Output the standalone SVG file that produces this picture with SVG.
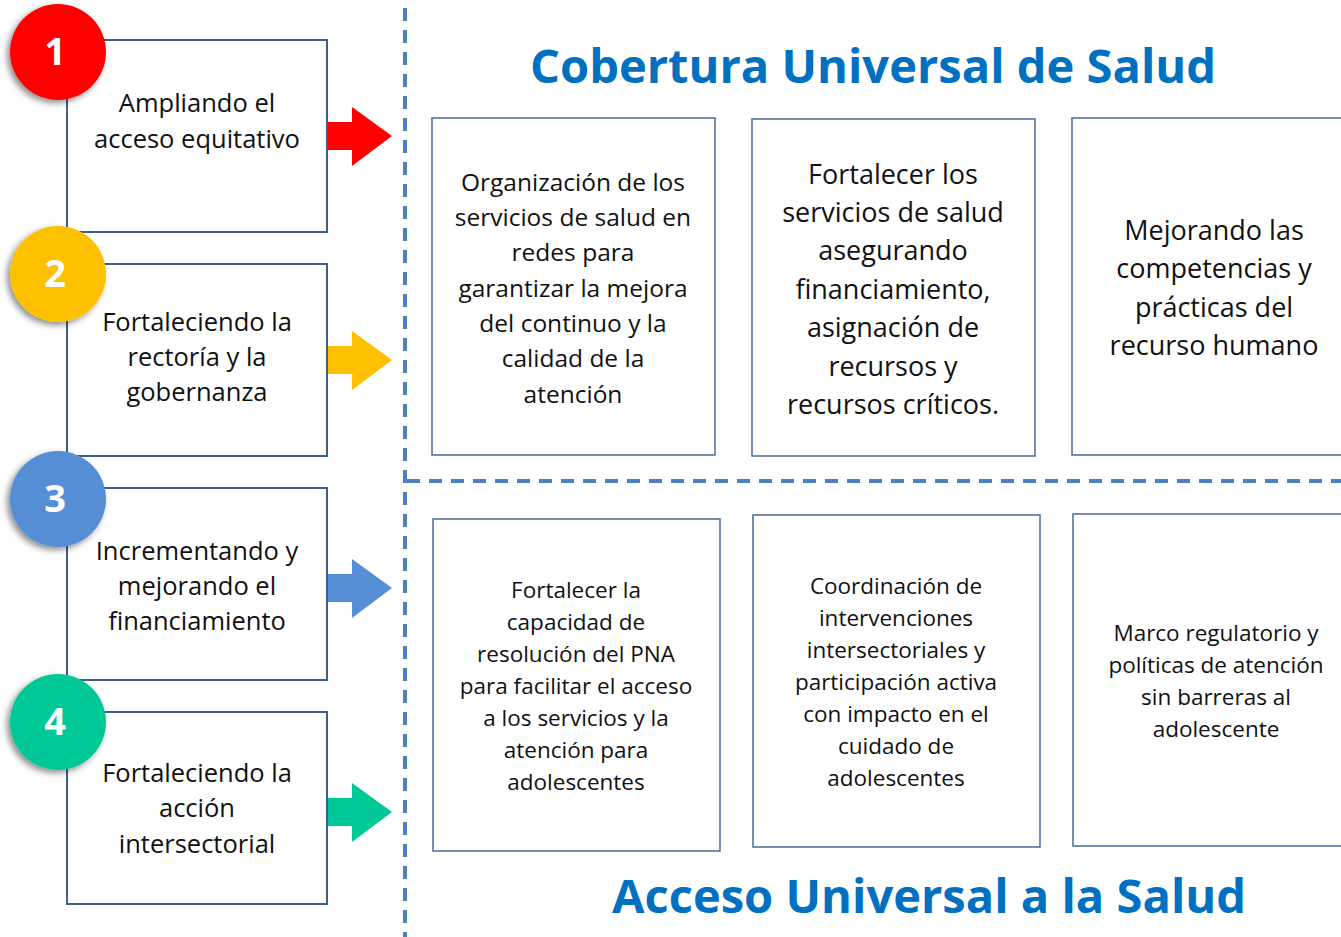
<svg xmlns="http://www.w3.org/2000/svg" width="1341" height="937" viewBox="0 0 1341 937">
<style>
.box{fill:#fff;stroke:#3F5F8F;stroke-width:2}
.rbox{fill:#fff;stroke:#4A6A9C;stroke-width:1.5}
.t{font-family:"Open Sans","Noto Sans",sans-serif;fill:#111;text-anchor:middle}
.lt{font-size:25.5px}
.num{font-family:"Open Sans","Noto Sans",sans-serif;font-weight:bold;font-size:38px;fill:#fff;text-anchor:middle}
.title{font-family:"Open Sans","Noto Sans",sans-serif;font-weight:bold;fill:#0070C0;text-anchor:middle;font-size:46px}
.dash{stroke:#4F81BD;stroke-width:4;stroke-dasharray:13 9;fill:none}
</style>
<defs>
<filter id="sh" x="-30%" y="-30%" width="160%" height="160%">
<feDropShadow dx="-3" dy="3" stdDeviation="3" flood-color="#000" flood-opacity="0.45"/>
</filter>
</defs>
<rect width="1341" height="937" fill="#fff"/>
<g id="dividers">
<line class="dash" x1="405" y1="8" x2="405" y2="937"/>
<line class="dash" x1="407" y1="481" x2="1341" y2="481"/>
</g>
<text class="title" x="873" y="83" textLength="686" lengthAdjust="spacingAndGlyphs">Cobertura Universal de Salud</text>
<text class="title" x="929" y="913" textLength="634" lengthAdjust="spacingAndGlyphs">Acceso Universal a la Salud</text>

<g id="connectors">
<polygon fill="#FF0000" points="327,122 352,122 352,107 392,136 352,166 352,150 327,150"/>
<polygon fill="#FFC000" points="327,346 352,346 352,331 392,360 352,390 352,374 327,374"/>
<polygon fill="#558ED5" points="327,574 352,574 352,559 392,588 352,618 352,602 327,602"/>
<polygon fill="#00C896" points="327,798 352,798 352,783 392,812 352,842 352,826 327,826"/>
</g>

<g id="n1">
<rect class="box" x="67" y="40" width="260" height="192"/>
<text class="t lt" x="197" y="112">Ampliando el</text>
<text class="t lt" x="197" y="148">acceso equitativo</text>
<circle cx="58" cy="52" r="48" fill="#FF0000" filter="url(#sh)"/>
<text class="num" x="55" y="65">1</text>
</g>
<g id="n2">
<rect class="box" x="67" y="264" width="260" height="192"/>
<text class="t lt" x="197" y="331">Fortaleciendo la</text>
<text class="t lt" x="197" y="366">rectoría y la</text>
<text class="t lt" x="197" y="401">gobernanza</text>
<circle cx="58" cy="274" r="48" fill="#FFC000" filter="url(#sh)"/>
<text class="num" x="55" y="287">2</text>
</g>
<g id="n3">
<rect class="box" x="67" y="488" width="260" height="192"/>
<text class="t lt" x="197" y="560">Incrementando y</text>
<text class="t lt" x="197" y="595">mejorando el</text>
<text class="t lt" x="197" y="630">financiamiento</text>
<circle cx="58" cy="499" r="48" fill="#558ED5" filter="url(#sh)"/>
<text class="num" x="55" y="512">3</text>
</g>
<g id="n4">
<rect class="box" x="67" y="712" width="260" height="192"/>
<text class="t lt" x="197" y="782">Fortaleciendo la</text>
<text class="t lt" x="197" y="817">acción</text>
<text class="t lt" x="197" y="853">intersectorial</text>
<circle cx="58" cy="722" r="48" fill="#00C896" filter="url(#sh)"/>
<text class="num" x="55" y="735">4</text>
</g>

<g id="cA" font-size="24.5">
<rect class="rbox" x="432" y="118" width="283" height="337"/>
<text class="t" x="573" y="191">Organización de los</text>
<text class="t" x="573" y="226">servicios de salud en</text>
<text class="t" x="573" y="261">redes para</text>
<text class="t" x="573" y="297">garantizar la mejora</text>
<text class="t" x="573" y="332">del continuo y la</text>
<text class="t" x="573" y="367">calidad de la</text>
<text class="t" x="573" y="403">atención</text>
</g>
<g id="cB" font-size="27">
<rect class="rbox" x="752" y="119" width="283" height="337"/>
<text class="t" x="893" y="184">Fortalecer los</text>
<text class="t" x="893" y="222">servicios de salud</text>
<text class="t" x="893" y="260">asegurando</text>
<text class="t" x="893" y="299">financiamiento,</text>
<text class="t" x="893" y="337">asignación de</text>
<text class="t" x="893" y="376">recursos y</text>
<text class="t" x="893" y="414">recursos críticos.</text>
</g>
<g id="cC" font-size="27">
<rect class="rbox" x="1072" y="118" width="290" height="337"/>
<text class="t" x="1214" y="240">Mejorando las</text>
<text class="t" x="1214" y="278">competencias y</text>
<text class="t" x="1214" y="317">prácticas del</text>
<text class="t" x="1214" y="355">recurso humano</text>
</g>
<g id="aD" font-size="22.5">
<rect class="rbox" x="433" y="519" width="287" height="332"/>
<text class="t" x="576" y="598">Fortalecer la</text>
<text class="t" x="576" y="630">capacidad de</text>
<text class="t" x="576" y="662">resolución del PNA</text>
<text class="t" x="576" y="694">para facilitar el acceso</text>
<text class="t" x="576" y="726">a los servicios y la</text>
<text class="t" x="576" y="758">atención para</text>
<text class="t" x="576" y="790">adolescentes</text>
</g>
<g id="aE" font-size="22.5">
<rect class="rbox" x="753" y="515" width="287" height="332"/>
<text class="t" x="896" y="594">Coordinación de</text>
<text class="t" x="896" y="626">intervenciones</text>
<text class="t" x="896" y="658">intersectoriales y</text>
<text class="t" x="896" y="690">participación activa</text>
<text class="t" x="896" y="722">con impacto en el</text>
<text class="t" x="896" y="754">cuidado de</text>
<text class="t" x="896" y="786">adolescentes</text>
</g>
<g id="aF" font-size="22.5">
<rect class="rbox" x="1073" y="514" width="290" height="332"/>
<text class="t" x="1216" y="641">Marco regulatorio y</text>
<text class="t" x="1216" y="673">políticas de atención</text>
<text class="t" x="1216" y="705">sin barreras al</text>
<text class="t" x="1216" y="737">adolescente</text>
</g>
</svg>
